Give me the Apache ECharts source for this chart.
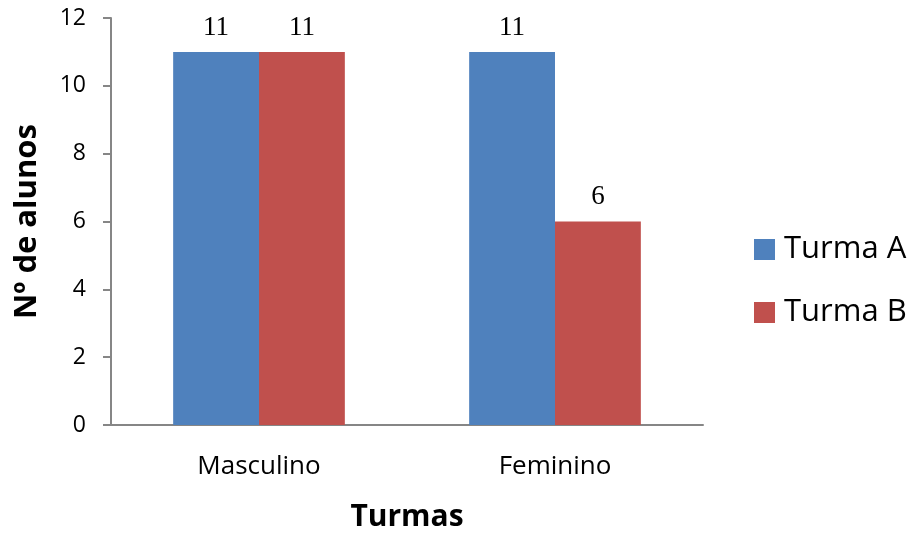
<!DOCTYPE html>
<html>
<head>
<meta charset="utf-8">
<script src="https://cdn.jsdelivr.net/npm/echarts@6/dist/echarts.min.js"></script>
<style>
  html, body { margin: 0; padding: 0; background: #fff; }
  #chart { width: 912px; height: 533px; }
</style>
</head>
<body>
<div id="chart"></div>
<script>
// Students per class, split by gender
const categories = ['Masculino', 'Feminino'];
const turmaA = [11, 11];
const turmaB = [11, 6];
const seriesNames = ['Turma A', 'Turma B'];
const yTicks = [0, 2, 4, 6, 8, 10, 12];

const uiFont = '"Open Sans", Lato, sans-serif';
const labelFont = '"Liberation Serif", "DejaVu Serif", serif';
const axisGray = '#868686';

const chart = echarts.init(document.getElementById('chart'));

function barSeries(name, values, color) {
  return {
    name: name,
    type: 'bar',
    data: values,
    barGap: '0%',
    barCategoryGap: '42%',
    itemStyle: { color: color },
    label: {
      show: true,
      position: 'top',
      distance: 11,
      fontFamily: labelFont,
      fontSize: 27,
      color: '#000'
    }
  };
}

chart.setOption({
  animation: false,
  backgroundColor: '#fff',
  grid: { left: 111, right: 209, top: 18, bottom: 108, containLabel: false, outerBoundsMode: 'none' },
  legend: {
    orient: 'vertical',
    left: 749,
    top: 229,
    itemWidth: 21,
    itemHeight: 21,
    itemGap: 32,
    icon: 'rect',
    data: seriesNames,
    textStyle: { fontFamily: uiFont, fontSize: 31, lineHeight: 21, color: '#000', padding: [0, 0, 0, 4] }
  },
  xAxis: {
    type: 'category',
    data: categories,
    name: 'Turmas',
    nameLocation: 'middle',
    nameGap: 77,
    nameMoveOverlap: false,
    nameTextStyle: { fontFamily: uiFont, fontSize: 30, fontWeight: 'bold', color: '#000' },
    axisLine: { lineStyle: { color: axisGray, width: 2 } },
    axisTick: { show: false },
    axisLabel: { fontFamily: uiFont, fontSize: 26, color: '#000', margin: 29 }
  },
  yAxis: {
    type: 'value',
    min: yTicks[0],
    max: yTicks[yTicks.length - 1],
    interval: 2,
    name: 'Nº de alunos',
    nameLocation: 'middle',
    nameGap: 68,
    nameMoveOverlap: false,
    nameTextStyle: { fontFamily: uiFont, fontSize: 31, fontWeight: 'bold', color: '#000' },
    axisLine: { show: true, lineStyle: { color: axisGray, width: 2 } },
    axisTick: { show: true, inside: false, length: 8, lineStyle: { color: axisGray, width: 2 } },
    splitLine: { show: false },
    axisLabel: { fontFamily: uiFont, fontSize: 23, color: '#000', margin: 25 }
  },
  series: [
    barSeries(seriesNames[0], turmaA, '#4F81BD'),
    barSeries(seriesNames[1], turmaB, '#C0504D')
  ]
});
</script>
</body>
</html>
